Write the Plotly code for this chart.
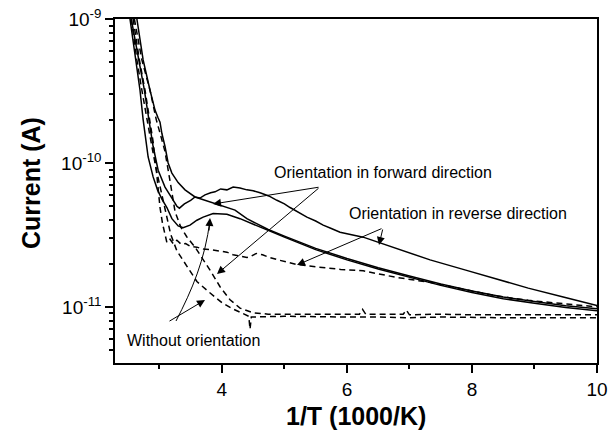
import plotly.graph_objects as go

# ---------------- data ----------------
# Solid curve A: smooth, shallow dip near 3.4 then monotonic decrease
a_x = [2.64, 2.74, 2.85, 2.93, 2.98, 3.01, 3.04, 3.09, 3.14, 3.2, 3.3, 3.41, 3.57, 3.78, 3.94,
       4.21, 4.4, 4.74, 5.0, 5.5, 6.0, 6.5, 7.0, 7.5, 8.0, 8.5, 9.0, 9.5, 10.0]
a_y = [1.0e-9, 5.2e-10, 3.2e-10, 2.33e-10, 2.05e-10, 1.92e-10, 1.6e-10, 1.3e-10, 1.0e-10, 8.5e-11,
       7.3e-11, 6.5e-11, 5.8e-11, 5.4e-11, 5.1e-11, 4.7e-11, 4.1e-11, 3.45e-11, 3.1e-11, 2.55e-11,
       2.17e-11, 1.87e-11, 1.64e-11, 1.44e-11, 1.29e-11, 1.17e-11, 1.09e-11, 1.02e-11, 9.7e-12]

# Solid curve B: noisy bump (highest curve)
b_x = [2.55, 2.66, 2.76, 2.84, 2.9, 2.98, 3.09, 3.2, 3.28, 3.32, 3.4, 3.5, 3.57, 3.65, 3.73, 3.82,
       3.89, 3.98, 4.08, 4.18, 4.29, 4.4, 4.5, 4.61, 4.75, 4.88, 5.0, 5.09, 5.2, 5.36, 5.5, 5.62,
       5.75, 5.89, 6.26, 6.8, 7.33, 7.9, 8.4, 8.9, 9.46, 10.0]
b_y = [1.0e-9, 5.5e-10, 3.2e-10, 1.9e-10, 1.3e-10, 8.9e-11, 6.8e-11, 5.7e-11, 5.0e-11, 4.85e-11,
       5.2e-11, 5.5e-11, 5.8e-11, 5.7e-11, 6.0e-11, 6.2e-11, 6.3e-11, 6.6e-11, 6.5e-11, 6.8e-11,
       6.7e-11, 6.5e-11, 6.4e-11, 6.2e-11, 5.9e-11, 5.5e-11, 5.2e-11, 4.9e-11, 4.6e-11, 4.2e-11,
       3.95e-11, 3.7e-11, 3.5e-11, 3.3e-11, 3.05e-11, 2.55e-11, 2.12e-11, 1.8e-11, 1.55e-11,
       1.35e-11, 1.17e-11, 1.02e-11]

# Solid curve C: deeper dip near 3.4, merges with A
c_x = [2.53, 2.62, 2.69, 2.74, 2.82, 2.9, 2.97, 3.04, 3.12, 3.2, 3.3, 3.38, 3.49, 3.6, 3.7, 3.86,
       4.08, 4.29, 4.5, 4.74, 5.0, 5.5, 6.0, 6.5, 7.0, 7.5, 8.0, 8.5, 9.0, 9.5, 10.0]
c_y = [1.0e-9, 5.2e-10, 3.2e-10, 2.0e-10, 1.1e-10, 8.0e-11, 6.5e-11, 5.6e-11, 4.9e-11, 4.1e-11,
       3.65e-11, 3.55e-11, 3.7e-11, 4.0e-11, 4.2e-11, 4.45e-11, 4.4e-11, 4.1e-11, 3.75e-11, 3.4e-11,
       3.05e-11, 2.5e-11, 2.12e-11, 1.83e-11, 1.6e-11, 1.41e-11, 1.26e-11, 1.14e-11, 1.06e-11,
       9.9e-12, 9.4e-12]

# Dashed curve D: plateau ~2.8e-11 then slow decrease
d_x = [2.58, 2.68, 2.77, 2.85, 2.9, 2.95, 2.98, 3.01, 3.05, 3.09, 3.12, 3.17, 3.22, 3.28, 3.35,
       3.42, 3.5, 3.6, 3.7, 3.81, 3.95, 4.08, 4.18, 4.3, 4.4, 4.47, 4.55, 4.65, 4.74, 4.9, 5.2,
       5.5, 5.9, 6.26, 6.8, 7.33, 7.9, 8.4, 8.9, 9.46, 10.0]
d_y = [1.0e-9, 5.2e-10, 3.2e-10, 2.0e-10, 1.4e-10, 9.0e-11, 6.5e-11, 4.9e-11, 3.8e-11, 3.1e-11,
       2.8e-11, 2.95e-11, 2.75e-11, 2.9e-11, 2.72e-11, 2.75e-11, 2.62e-11, 2.6e-11, 2.52e-11,
       2.5e-11, 2.45e-11, 2.4e-11, 2.3e-11, 2.25e-11, 2.2e-11, 2.25e-11, 2.35e-11, 2.3e-11,
       2.22e-11, 2.12e-11, 1.97e-11, 1.9e-11, 1.82e-11, 1.78e-11, 1.6e-11, 1.48e-11, 1.32e-11,
       1.19e-11, 1.11e-11, 1.05e-11, 1.0e-11]

# Dashed curve E: steep drop to ~1e-11, spike at 4.45, flat after
e_x = [2.55, 2.64, 2.72, 2.8, 2.88, 2.95, 3.02, 3.1, 3.18, 3.28, 3.45, 3.6, 3.8, 4.0, 4.15, 4.3,
       4.43, 4.45, 4.47, 5.0, 5.5, 6.0, 6.5, 7.0, 7.5, 8.0, 8.5, 9.0, 9.5, 10.0]
e_y = [1.0e-9, 5.2e-10, 3.2e-10, 2.0e-10, 1.3e-10, 9.0e-11, 6.5e-11, 4.6e-11, 3.2e-11, 2.45e-11,
       1.9e-11, 1.5e-11, 1.26e-11, 1.07e-11, 9.8e-12, 9.2e-12, 8.6e-12, 7.0e-12, 8.5e-12, 8.6e-12,
       8.5e-12, 8.5e-12, 8.5e-12, 8.4e-12, 8.5e-12, 8.4e-12, 8.4e-12, 8.4e-12, 8.4e-12, 8.4e-12]

# Dashed curve F: drop crossing D, flat ~8.8e-12 with small spikes
f_x = [2.6, 2.72, 2.85, 2.95, 3.03, 3.09, 3.17, 3.25, 3.34, 3.44, 3.57, 3.7, 3.81, 3.97, 4.13,
       4.29, 4.5, 4.74, 5.0, 5.5, 6.0, 6.2, 6.25, 6.3, 6.9, 6.95, 7.0, 7.5, 8.0, 8.5, 9.0, 9.5, 10.0]
f_y = [1.0e-9, 5.2e-10, 3.2e-10, 2.0e-10, 1.5e-10, 1.2e-10, 7.5e-11, 4.6e-11, 3.6e-11, 3.06e-11,
       2.6e-11, 2.15e-11, 1.8e-11, 1.38e-11, 1.12e-11, 9.8e-12, 9.1e-12, 8.9e-12, 8.9e-12, 8.8e-12,
       8.9e-12, 8.9e-12, 9.6e-12, 8.9e-12, 8.9e-12, 9.5e-12, 8.8e-12, 8.9e-12, 8.8e-12, 8.8e-12,
       8.8e-12, 8.8e-12, 8.8e-12]

x_tickvals = [4, 6, 8, 10]
x_ticktext = ["4", "6", "8", "10"]
x_minor = [3, 5, 7, 9]
y_tickvals = [1e-11, 1e-10, 1e-9]
y_ticktext = ["10<sup>-11</sup>", "10<sup>-10</sup>", "10<sup>-9</sup>"]
y_minor = [k * 10.0 ** e for e in (-12, -11, -10) for k in range(2, 10)]

label_fwd = "Orientation in forward direction"
label_rev = "Orientation in reverse direction"
label_none = "Without orientation"
x_title = "<b>1/T (1000/K)</b>"
y_title = "<b>Current (A)</b>"

# ---------------- figure ----------------
W, H = 616, 436
L, R, T, B = 115, 19, 19, 73
PW, PH = W - L - R, H - T - B


def px(xp):
    return (xp - L) / PW


def py(yp):
    return (H - B - yp) / PH


FONT = "Liberation Sans, Arial, sans-serif"
fig = go.Figure()

solid = dict(color="black", width=1.5)
dashed = dict(color="black", width=1.5, dash="6px,4px")
for xs, ys, ln in [(a_x, a_y, solid), (b_x, b_y, solid), (c_x, c_y, solid),
                   (d_x, d_y, dashed), (e_x, e_y, dashed), (f_x, f_y, dashed)]:
    fig.add_trace(go.Scatter(x=xs, y=ys, mode="lines", line=ln, hoverinfo="skip"))

axis_common = dict(showline=True, linecolor="black", linewidth=1.5, mirror=True,
                   ticks="outside", ticklen=8, tickwidth=1.5, tickcolor="black",
                   showgrid=False, zeroline=False, automargin=False,
                   tickfont=dict(family=FONT, size=19, color="black"))

fig.update_xaxes(range=[2.29, 10], tickmode="array", tickvals=x_tickvals, ticktext=x_ticktext,
                 minor=dict(tickmode="array", tickvals=x_minor, ticks="outside", ticklen=4,
                            tickwidth=1.5, tickcolor="black", showgrid=False),
                 **axis_common)
fig.update_yaxes(type="log", range=[-11.39, -9], tickmode="array", tickvals=y_tickvals,
                 ticktext=y_ticktext,
                 minor=dict(tickmode="array", tickvals=y_minor, ticks="outside", ticklen=4,
                            tickwidth=1.5, tickcolor="black", showgrid=False),
                 **axis_common)

ann = []
tfont = dict(family=FONT, size=16, color="black")
ann.append(dict(xref="paper", yref="paper", x=px(272), y=py(172), text=label_fwd,
                showarrow=False, xanchor="left", yanchor="middle", font=tfont))
ann.append(dict(xref="paper", yref="paper", x=px(347), y=py(213), text=label_rev,
                showarrow=False, xanchor="left", yanchor="middle", font=tfont))
ann.append(dict(xref="paper", yref="paper", x=px(125), y=py(340), text=label_none,
                showarrow=False, xanchor="left", yanchor="middle", font=tfont))

arrows = [((320, 187), (213, 204)), ((320, 187), (217, 274)),
          ((383, 228), (297, 265)), ((383, 228), (379, 245)),
          ((168, 322), (205, 300)), ((209, 232), (210, 218))]
for (tx, ty), (hx, hy) in arrows:
    ann.append(dict(xref="paper", yref="paper", x=px(hx), y=py(hy), axref="pixel", ayref="pixel",
                    ax=tx - hx, ay=ty - hy, showarrow=True, arrowhead=2, arrowsize=1.6,
                    arrowwidth=1, arrowcolor="black", text="", standoff=0))

ann.append(dict(xref="paper", yref="paper", x=px(356), y=py(416), text=x_title, showarrow=False,
                xanchor="center", yanchor="middle",
                font=dict(family=FONT, size=25, color="black")))
ann.append(dict(xref="paper", yref="paper", x=px(31), y=py(183), text=y_title, showarrow=False,
                xanchor="center", yanchor="middle", textangle=-90,
                font=dict(family=FONT, size=25, color="black")))

curve = "M {},{} C {},{} {},{} {},{}".format(px(176), py(321), px(192), py(290), px(205), py(260),
                                              px(210), py(220))
fig.update_layout(
    width=W, height=H, margin=dict(l=L, r=R, t=T, b=B, autoexpand=False),
    plot_bgcolor="white", paper_bgcolor="white", showlegend=False,
    font=dict(family=FONT, color="black"),
    annotations=ann,
    shapes=[dict(type="path", xref="paper", yref="paper", path=curve,
                 line=dict(color="black", width=1))],
)

fig.write_html("out.html", config={"displayModeBar": False},
               post_script="document.body.style.margin='0px';document.body.style.padding='0px';")
